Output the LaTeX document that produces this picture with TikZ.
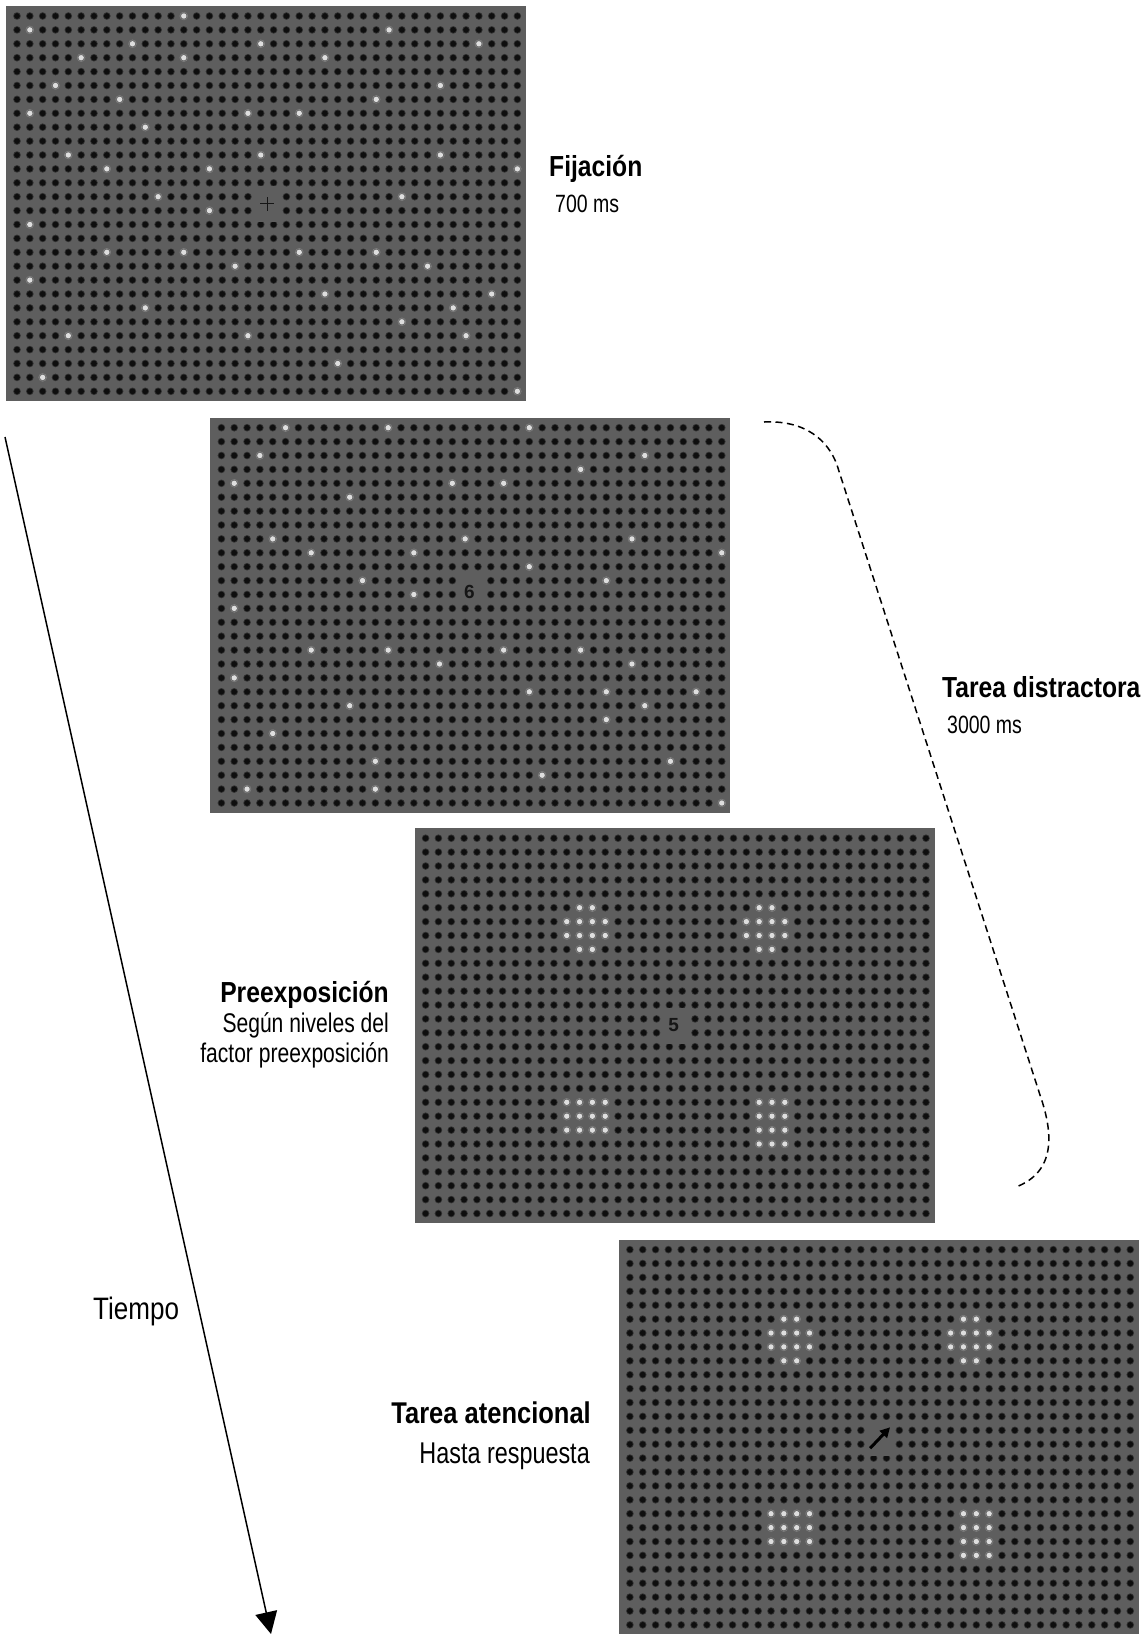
\documentclass[tikz,border=0pt]{standalone}
\usepackage{fontspec}
\setmainfont{Liberation Sans}
\newfontfamily\nreg{Liberation Sans}[FakeStretch=0.78]
\newfontfamily\nregw{Liberation Sans}[FakeStretch=0.84]
\newfontfamily\nbold{Liberation Sans}[FakeStretch=0.85]
\usetikzlibrary{arrows.meta}
\definecolor{panelbg}{RGB}{94,94,94}
\definecolor{dotdark}{RGB}{14,14,14}
\definecolor{dothalo}{RGB}{50,50,50}
\definecolor{dotlit}{RGB}{222,222,222}
\definecolor{glyph}{RGB}{22,22,22}
\tikzset{
  panelnode/.style={fill=panelbg, draw=none, inner sep=0pt, outer sep=0pt,
    minimum width=520pt, minimum height=395pt, anchor=north west},
  halorow/.style={line width=7.6pt, line cap=round, dash pattern=on 0pt off 12.83pt, draw=dothalo},
  dotrow/.style={line width=5.8pt, line cap=round, dash pattern=on 0pt off 12.83pt, draw=dotdark},
  litglow/.style={fill=dotlit, opacity=0.35, draw=none},
  litdot/.style={fill=dotlit, draw=none},
  gapbox/.style={fill=panelbg, draw=none},
  digit/.style={inner sep=0pt, text=glyph, font=\bfseries\fontsize{19}{19}\selectfont},
  titlelbl/.style={inner sep=0pt, font=\nbold\bfseries\fontsize{29}{32}\selectfont},
  sublbl/.style={inner sep=0pt, font=\nreg\fontsize{25}{30}\selectfont},
  timeaxis/.style={line width=1.5pt, -{Triangle[length=22pt,width=22pt]}},
  bracket/.style={line width=1.5pt, dash pattern=on 7pt off 4.5pt},
}
% grid position of column c, row r inside a panel
\newcommand\gx[1]{11+#1*12.83}
\newcommand\gy[1]{10+#1*13.9}
\newcommand\dotgrid{%
  \foreach \r in {0,...,27} {\draw[halorow] (11,{\gy{\r}}) -- (511.5,{\gy{\r}});}
  \foreach \r in {0,...,27} {\draw[dotrow] (11,{\gy{\r}}) -- (511.5,{\gy{\r}});}
}
\newcommand\litdots[1]{%
  \foreach \c/\r in {#1} {
    \fill[litglow] ({\gx{\c}},{\gy{\r}}) circle (4.2);
    \fill[litdot] ({\gx{\c}},{\gy{\r}}) circle (2.7);
  }
}
\newcommand\clusters{%
  \litdots{12/5,13/5,11/6,12/6,13/6,14/6,11/7,12/7,13/7,14/7,12/8,13/8,
           26/5,27/5,25/6,26/6,27/6,28/6,25/7,26/7,27/7,28/7,26/8,27/8,
           11/19,12/19,13/19,14/19,11/20,12/20,13/20,14/20,11/21,12/21,13/21,14/21,
           26/19,27/19,28/19,26/20,27/20,28/20,26/21,27/21,28/21,26/22,27/22,28/22}
}
\begin{document}
\begin{tikzpicture}[x=1pt,y=-1pt]
\useasboundingbox (0,0) rectangle (1148,1634);
\fill[white] (0,0) rectangle (1148,1634);

% ---------- panel 1: fixation ----------
\node[panelnode] (p1) at (6,6) {};
\begin{scope}[shift={(p1.north west)}]
  \dotgrid
  \litdots{13/0,29/1,1/1,9/2,19/2,36/2,5/3,13/3,24/3,3/5,33/5,8/6,28/6,1/7,18/7,22/7,
    10/8,4/10,19/10,33/10,7/11,15/11,39/11,11/13,30/13,15/14,1/15,7/17,13/17,22/17,28/17,
    17/18,32/18,1/19,24/20,37/20,10/21,34/21,30/22,4/23,18/23,35/23,25/25,2/26,39/27}
  \fill[gapbox] (249,180) rectangle (274,216);
  \coordinate (fixc) at ({\gx{19.5}},{\gy{13.5}});
  \draw[glyph, line width=1.3pt] ([xshift=-7pt]fixc) -- ([xshift=7pt]fixc);
  \draw[glyph, line width=1.3pt] ([yshift=-7pt]fixc) -- ([yshift=7pt]fixc);
\end{scope}

% ---------- panel 2: distractor ----------
\node[panelnode] (p2) at (210.4,417.7) {};
\begin{scope}[shift={(p2.north west)}]
  \dotgrid
  \litdots{5/0,13/0,24/0,3/2,33/2,28/3,1/4,18/4,22/4,10/5,4/8,19/8,32/8,7/9,15/9,39/9,
    24/10,11/11,30/11,15/12,1/13,7/16,13/16,22/16,28/16,17/17,32/17,1/18,24/19,30/19,37/19,
    10/20,33/20,30/21,4/22,12/24,35/24,25/25,2/26,12/26,39/27}
  \fill[gapbox] (249,157) rectangle (274,183);
  \node[digit] (six) at (259,174) {6};
\end{scope}

% ---------- panel 3: pre-exposure ----------
\node[panelnode] (p3) at (414.6,828.2) {};
\begin{scope}[shift={(p3.north west)}]
  \dotgrid
  \clusters
  \fill[gapbox] (249,180) rectangle (274,216);
  \node[digit] (five) at (259,197) {5};
\end{scope}

% ---------- panel 4: attention task ----------
\node[panelnode] (p4) at (618.9,1239.6) {};
\begin{scope}[shift={(p4.north west)}]
  \dotgrid
  \clusters
  \fill[gapbox] (249,180) rectangle (274,216);
  \coordinate (arrA) at ({\gx{19.5}-10},{\gy{13.5}+11});
  \coordinate (arrB) at ({\gx{19.5}+10},{\gy{13.5}-10});
  \draw[line width=3pt, black, -{Triangle[length=10pt,width=10pt]}] (arrA) -- (arrB);
\end{scope}

% ---------- labels ----------
\node[titlelbl, anchor=base west] (lfix) at (549,176) {Fijación};
\node[sublbl, anchor=base west] (lfixt) at (555,212) {700 ms};
\node[titlelbl, anchor=base west] (ldis) at (942,697) {Tarea distractora};
\node[sublbl, anchor=base west] (ldist) at (947,733) {3000 ms};
\node[titlelbl, anchor=base east] (lpre) at (389,1002) {Preexposición};
\node[sublbl, anchor=base east, font=\nreg\fontsize{27}{30}\selectfont] (lpre1) at (389,1032) {Según niveles del};
\node[sublbl, anchor=base east, font=\nreg\fontsize{27}{30}\selectfont] (lpre2) at (389,1062) {factor preexposición};
\node[titlelbl, anchor=base east, font=\nbold\bfseries\fontsize{30}{32}\selectfont] (lat) at (591,1423) {Tarea atencional};
\node[sublbl, anchor=base east, font=\nreg\fontsize{30}{32}\selectfont] (latt) at (590,1463) {Hasta respuesta};
\node[sublbl, anchor=base west, font=\nregw\fontsize{31}{32}\selectfont] (ltime) at (93,1319) {Tiempo};

% ---------- time axis ----------
\coordinate (tstart) at (5,437);
\coordinate (tend) at (271,1634);
\draw[timeaxis] (tstart) -- (tend);

% ---------- dashed bracket ----------
\coordinate (b0) at (764,422);
\coordinate (b1) at (837,465);
\coordinate (b2) at (1040,1095);
\coordinate (b3) at (1016,1187);
\draw[bracket] (b0) .. controls (805,420) and (828,440) .. (b1) -- (b2)
  .. controls (1054,1135) and (1055,1172) .. (b3);
\end{tikzpicture}
\end{document}
